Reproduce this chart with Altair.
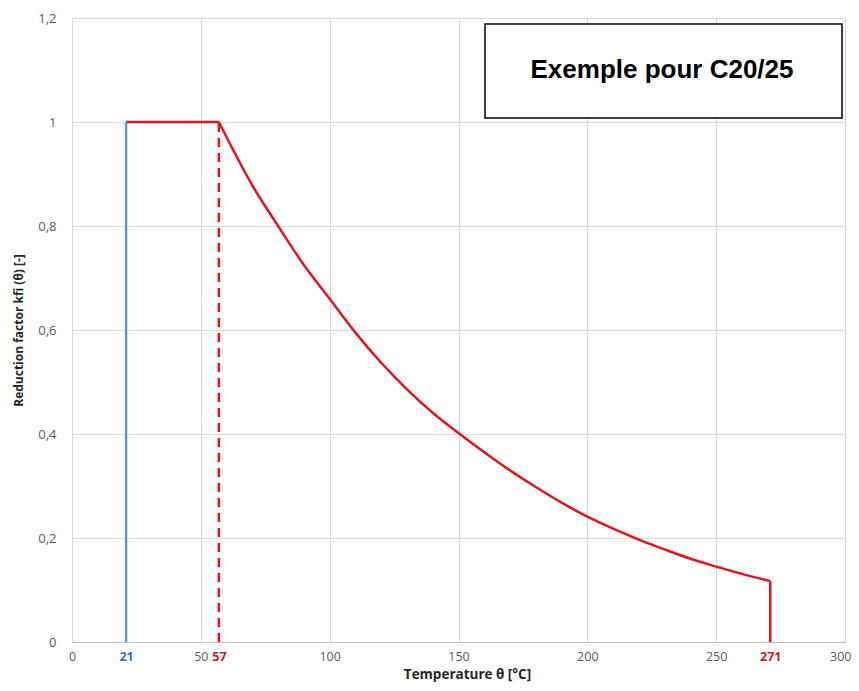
import altair as alt
import pandas as pd

# Decreasing red curve (temperature °C, reduction factor)
curve_temp = [57, 70, 80, 90, 100, 110, 120, 130, 140, 150, 160, 170, 180, 190, 200,
              210, 220, 230, 240, 250, 260, 271]
curve_k = [1.0, 0.878, 0.80, 0.725, 0.660, 0.595, 0.537, 0.486, 0.441, 0.402, 0.365,
           0.330, 0.298, 0.268, 0.241, 0.218, 0.197, 0.178, 0.160, 0.145, 0.131, 0.117]

# Straight segments
plateau_temp = [21, 57]
plateau_k = [1.0, 1.0]
drop_temp = [271, 271]
drop_k = [0.117, 0.0]
blue_temp = [21, 21]
blue_k = [0.0, 1.0]
dash_temp = [57, 57]
dash_k = [0.0, 1.0]

x_ticks = [0, 21, 50, 57, 100, 150, 200, 250, 271, 300]
y_ticks = [0, 0.2, 0.4, 0.6, 0.8, 1.0, 1.2]
box_label = "Exemple pour C20/25"

W, H = 773, 624
RED = "#e3141c"
BLUE = "#5b9bd5"
GRAY = "#595959"
FONT = "Open Sans"


def seg(t, k):
    return pd.DataFrame({"t": t, "k": k, "i": range(len(t))})


special = "(datum.value == 21 || datum.value == 57 || datum.value == 271)"

x_enc = alt.X(
    "t:Q",
    scale=alt.Scale(domain=[0, 300], nice=False, zero=False),
    axis=alt.Axis(
        values=x_ticks,
        title="Temperature θ [°C]",
        titleFont=FONT, titleFontSize=13.5, titleFontWeight="bold", titleColor="#262626",
        titlePadding=5, titleX=395,
        labelFont=FONT, labelFontSize=12.5, labelPadding=8,
        labelOverlap=False, labelFlush=False,
        labelAlign=alt.ExprRef("datum.value == 300 ? 'right' : 'center'"),
        labelOffset=alt.ExprRef("datum.value == 300 ? 6 : 0"),
        labelColor=alt.ExprRef("datum.value == 21 ? '#2e75b6' : " + special + " ? '#d01820' : '#595959'"),
        labelFontWeight=alt.ExprRef(special + " ? 'bold' : 'normal'"),
        gridColor="#d9d9d9",
        gridOpacity=alt.ExprRef(special + " ? 0 : 1"),
        ticks=False, domainColor="#bfbfbf", domainWidth=1,
    ),
)
y_enc = alt.Y(
    "k:Q",
    scale=alt.Scale(domain=[0, 1.2], nice=False),
    axis=alt.Axis(
        values=y_ticks,
        title="Reduction factor kfi (θ) [-]",
        titleFont=FONT, titleFontSize=12, titleFontWeight="bold", titleColor="#262626",
        titlePadding=12,
        labelFont=FONT, labelFontSize=13, labelColor=GRAY, labelPadding=16,
        labelExpr="replace(format(datum.value, '~g'), '.', ',')",
        gridColor="#d9d9d9", ticks=False, domain=False,
    ),
)

curve = alt.Chart(seg(curve_temp, curve_k)).mark_line(
    color=RED, strokeWidth=2.5, interpolate="monotone"
).encode(x=x_enc, y=y_enc, order="i:Q")
plateau = alt.Chart(seg(plateau_temp, plateau_k)).mark_line(color=RED, strokeWidth=2.5).encode(
    x="t:Q", y="k:Q", order="i:Q"
)
drop = alt.Chart(seg(drop_temp, drop_k)).mark_line(color=RED, strokeWidth=2.5).encode(
    x="t:Q", y="k:Q", order="i:Q"
)
blue = alt.Chart(seg(blue_temp, blue_k)).mark_line(color=BLUE, strokeWidth=2.5).encode(
    x="t:Q", y="k:Q", order="i:Q"
)
dash = alt.Chart(seg(dash_temp, dash_k)).mark_line(color=RED, strokeWidth=2.5, strokeDash=[9, 6]).encode(
    x="t:Q", y="k:Q", order="i:Q"
)

box = alt.Chart(pd.DataFrame({"label": [box_label]})).mark_rect(
    fill="white", stroke="#000000", strokeWidth=1.5
).encode(x=alt.value(413), x2=alt.value(770), y=alt.value(6), y2=alt.value(100))

box_text = alt.Chart(pd.DataFrame({"label": [box_label]})).mark_text(
    font="Liberation Sans", fontSize=26, fontWeight="bold", color="#000000",
    align="center", baseline="middle"
).encode(x=alt.value(590), y=alt.value(52), text="label:N")

chart = (
    alt.layer(curve, plateau, drop, blue, dash, box, box_text)
    .properties(
        width=W, height=H,
        autosize=alt.AutoSizeParams(type="none"),
        padding={"left": 64, "top": 10, "right": 6, "bottom": 41},
    )
    .configure_view(stroke=None)
    .configure(background="white")
)

chart.save("out.html", embed_options={"renderer": "svg", "actions": False})
